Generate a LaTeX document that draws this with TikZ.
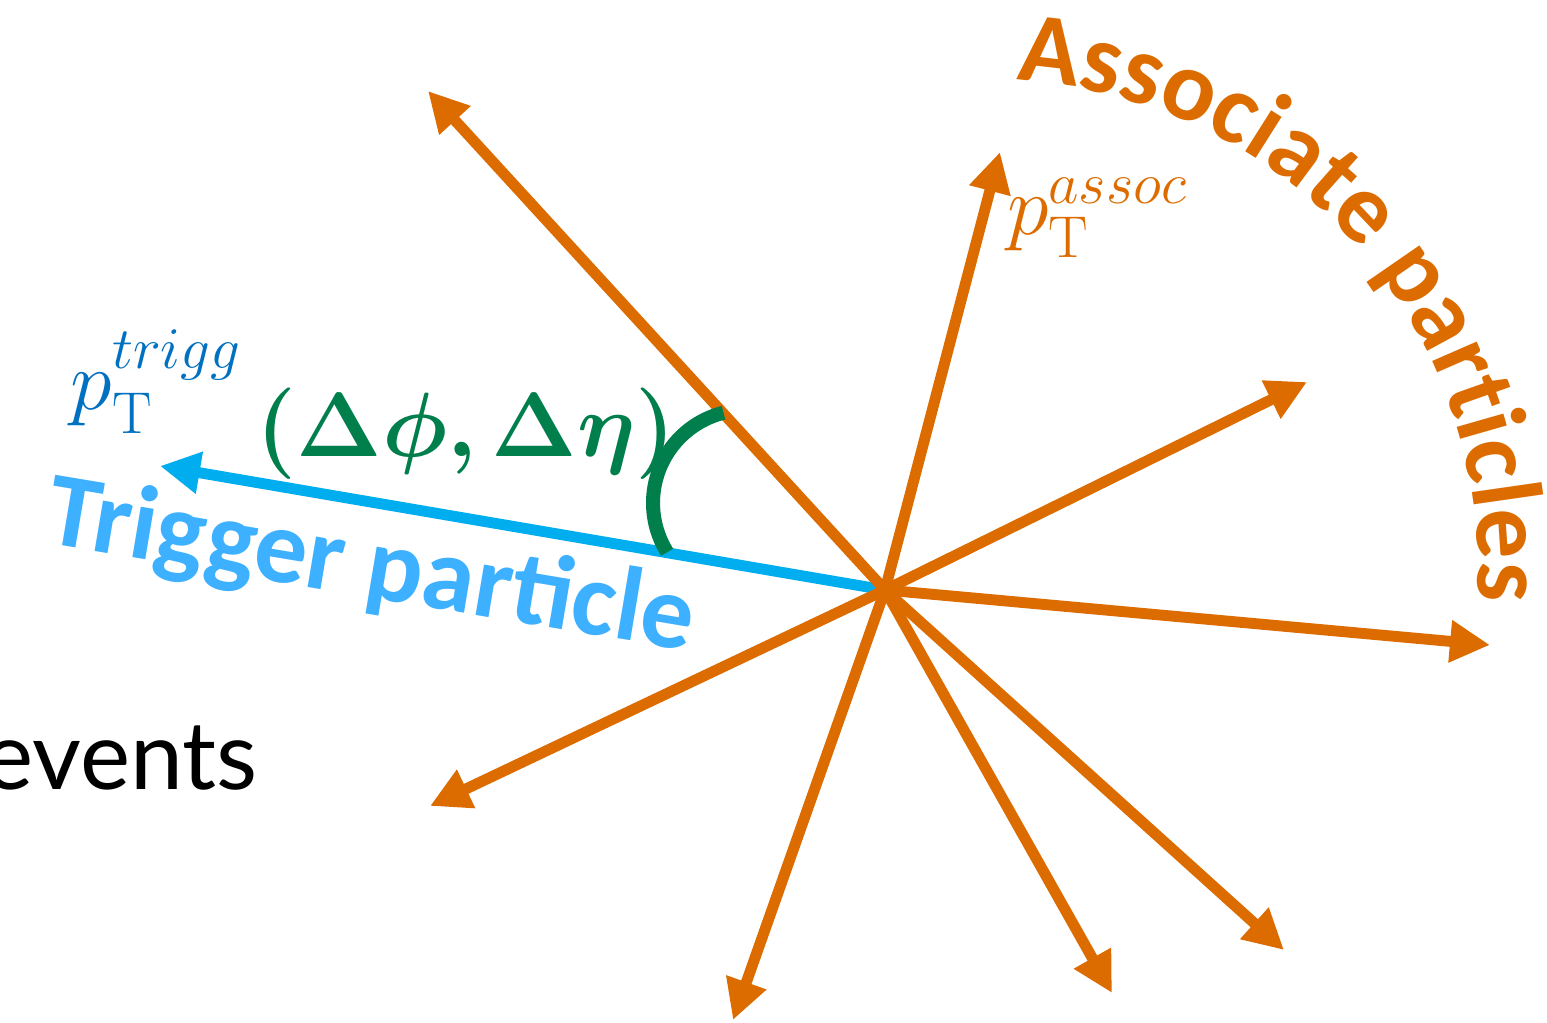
\RequirePackage{fix-cm}
\documentclass[tikz,border=0pt]{standalone}
\usepackage{amsmath,amssymb,bm}
\usepackage{fontspec}
\usetikzlibrary{arrows.meta,decorations.text}
\newfontfamily\hadsans{Carlito}
\newfontfamily\hadplain{Lato}
\definecolor{hadorange}{HTML}{DD6C00}
\definecolor{hadcyan}{HTML}{00AEEF}
\definecolor{hadsky}{HTML}{3DB0FF}
\definecolor{hadblue}{HTML}{0070C0}
\definecolor{hadgreen}{HTML}{007F4C}
\tikzset{
  % associate tracks leaving the vertex
  had assoc/.style={
    draw=hadorange, line width=6.2pt,
    -{Triangle[length=0.8cm,width=0.8cm]},
  },
  % the leading (trigger) track
  had trigger/.style={
    draw=hadcyan, line width=6.2pt,
    -{Triangle[length=0.8cm,width=0.8cm]},
  },
  % opening angle between trigger and associate
  had angle/.style={
    draw=hadgreen, line width=8pt,
  },
  % momentum labels
  had momentum/.style={
    inner sep=0pt, font=\fontsize{48}{52}\selectfont,
  },
}

\begin{document}
\begin{tikzpicture}[x=0.02cm,y=0.02cm]
  \useasboundingbox (0,0) rectangle (1547,1023);

  % ---- the vertex and where the tracks end ---------------------------------
  \coordinate (vtx)  at (885,433);
  \coordinate (trig) at (160,557);
  \coordinate (ul)   at (428,932);
  \coordinate (up)   at (1000,871);
  \coordinate (ur)   at (1307,641);
  \coordinate (rt)   at (1490,378);
  \coordinate (lr)   at (1284,73);
  \coordinate (dr)   at (1112,30);
  \coordinate (dn)   at (733,3);
  \coordinate (ll)   at (430,217);

  % ---- tracks ----------------------------------------------------------------
  \draw[had trigger] (vtx) -- (trig);
  \draw[had assoc] (vtx) -- (ul);
  \draw[had assoc] (vtx) -- (up);
  \draw[had assoc] (vtx) -- (ur);
  \draw[had assoc] (vtx) -- (rt);
  \draw[had assoc] (vtx) -- (lr);
  \draw[had assoc] (vtx) -- (dr);
  \draw[had assoc] (vtx) -- (dn);
  \draw[had assoc] (vtx) -- (ll);

  % ---- the angle between them ------------------------------------------------
  \coordinate (wedge) at (746,520);
  \draw[had angle] ([shift={(104:93)}]wedge) arc[start angle=104,end angle=212,radius=93];
  \node[text=hadgreen,inner sep=0pt,font=\fontsize{52}{56}\selectfont] (dphi) at (466,589)
    {$\bm{(\Delta\phi,\Delta\eta)}$};

  % ---- labels ----------------------------------------------------------------
  \node[had momentum,text=hadblue] (ptrig) at (156,641) {$p_{\mathrm{T}}^{trigg}$};
  \node[had momentum,text=hadorange] (passoc) at (1097,805) {$p_{\mathrm{T}}^{assoc}$};

  \node[text=hadsky,inner sep=0pt,rotate=-9.5,
        font=\hadsans\bfseries\fontsize{60}{62}\selectfont] (trigtxt) at (371,454)
    {Trigger particle};

  \coordinate (bend) at (990,455);
  \path[decorate,decoration={text along path,text align=center,text color=hadorange,
        text={|\hadsans\bfseries\fontsize{57}{60}\selectfont|Associate particles}}]
    ([shift={(94:488)}]bend) arc[start angle=94,end angle=-11,radius=488];

  \node[anchor=base east,inner sep=0pt,font=\hadplain\fontsize{54}{58}\selectfont] (events)
    at (258,233) {events};

\end{tikzpicture}
\end{document}
